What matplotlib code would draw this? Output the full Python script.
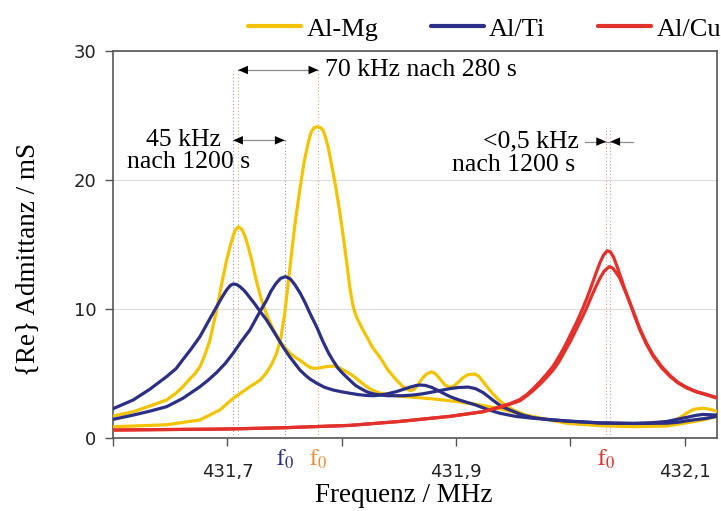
import matplotlib
matplotlib.use("Agg")
import matplotlib.pyplot as plt

plt.rcParams['mathtext.fontset'] = 'stix'

SERIF = ['Liberation Serif', 'DejaVu Serif']
SANS = ['DejaVu Sans']

# Al-Mg resonator, original peak (MHz, mS)
mg0_f = [431.600, 431.6175, 431.6467, 431.6759, 431.6934, 431.705, 431.7196, 431.7284,
         431.7342, 431.739, 431.743, 431.7465, 431.750, 431.7546, 431.759, 431.7633,
         431.767, 431.7706, 431.773, 431.7755, 431.7782, 431.781, 431.7835, 431.7852,
         431.788, 431.7911, 431.7945, 431.7983, 431.8012, 431.8042, 431.807, 431.8085,
         431.810, 431.8115, 431.813, 431.8167, 431.8217, 431.8272, 431.8333, 431.8403,
         431.8479, 431.8535, 431.8596, 431.8625, 431.865, 431.868, 431.871, 431.8745,
         431.8786, 431.882, 431.8859, 431.890, 431.8946, 431.898, 431.902, 431.906,
         431.910, 431.9165, 431.920, 431.9235, 431.928, 431.9322, 431.937, 431.941,
         431.9497, 431.9611, 431.9733, 431.9967, 432.0258, 432.055, 432.0783, 432.0872,
         432.095, 432.1017, 432.108, 432.116, 432.122, 432.128]
mg0_v = [0.90, 0.95, 1.05, 1.42, 2.2, 3.1, 4.0, 4.5,
         5.1, 5.8, 6.6, 7.7, 9.6, 13.2, 16.6, 19.3,
         21.4, 22.9, 23.7, 24.05, 24.15, 24.1, 23.9, 23.5,
         22.6, 21.2, 19.6, 17.5, 15.7, 13.7, 11.7, 10.9,
         10.2, 9.75, 9.4, 8.7, 7.9, 7.0, 6.3, 5.3,
         4.5, 4.0, 3.7, 3.75, 3.95, 4.35, 4.7, 5.0,
         5.15, 5.0, 4.6, 4.15, 3.95, 4.05, 4.35, 4.7,
         4.92, 4.98, 4.8, 4.4, 3.9, 3.45, 3.0, 2.7,
         2.2, 1.8, 1.55, 1.29, 1.03, 0.95, 1.0, 1.15,
         1.55, 1.95, 2.25, 2.33, 2.25, 2.1]

# Al-Mg after 280 s
mg1_f = [431.600, 431.6175, 431.632, 431.6467, 431.655, 431.661, 431.667, 431.6715,
         431.6759, 431.680, 431.6846, 431.6905, 431.695, 431.6992, 431.703, 431.7065,
         431.7094, 431.7125, 431.7152, 431.718, 431.7215, 431.725, 431.7295, 431.7342,
         431.7397, 431.7459, 431.7505, 431.7546, 431.759, 431.7633, 431.768, 431.7721,
         431.776, 431.780, 431.7861, 431.7925, 431.797, 431.8012, 431.8071, 431.812,
         431.8167, 431.8217, 431.8275, 431.8333, 431.8403, 431.850, 431.8596, 431.880,
         431.900, 431.920, 431.9383, 431.960, 431.9967, 432.0258, 432.055, 432.0842,
         432.1017, 432.116, 432.128]
mg1_v = [1.73, 2.06, 2.5, 2.97, 3.5, 4.0, 4.6, 5.0,
         5.55, 6.4, 7.6, 9.95, 12.0, 13.8, 15.1, 16.1,
         16.4, 16.2, 15.7, 14.9, 13.7, 12.3, 10.8, 9.6,
         8.5, 7.5, 7.0, 6.6, 6.3, 6.05, 5.75, 5.5,
         5.42, 5.45, 5.55, 5.6, 5.5, 5.3, 5.0, 4.7,
         4.35, 4.0, 3.7, 3.5, 3.36, 3.27, 3.2, 3.05,
         2.85, 2.6, 2.3, 1.8, 1.16, 0.98, 0.9, 0.95,
         1.2, 1.42, 1.7]

# Al/Ti resonator, original peak
ti0_f = [431.600, 431.6175, 431.632, 431.6467, 431.661, 431.6759, 431.683, 431.6905,
         431.698, 431.705, 431.712, 431.7196, 431.727, 431.7342, 431.738, 431.7424,
         431.7465, 431.7508, 431.755, 431.759, 431.7633, 431.768, 431.7721, 431.7782,
         431.7835, 431.7885, 431.7925, 431.797, 431.8012, 431.8071, 431.812, 431.8167,
         431.822, 431.8272, 431.834, 431.8403, 431.8535, 431.862, 431.871, 431.880,
         431.8859, 431.8946, 431.9016, 431.9106, 431.917, 431.9235, 431.928, 431.9322,
         431.940, 431.9497, 431.958, 431.9675, 431.980, 431.9967, 432.0258, 432.055,
         432.070, 432.0842, 432.095, 432.1017, 432.110, 432.116, 432.128]
ti0_v = [1.47, 1.8, 2.1, 2.45, 3.1, 4.0, 4.5, 5.1,
         5.8, 6.6, 7.5, 8.4, 9.6, 10.7, 11.4, 12.0,
         12.4, 12.53, 12.35, 11.9, 11.3, 10.5, 9.7, 8.6,
         7.5, 6.6, 6.0, 5.4, 5.0, 4.5, 4.1, 3.85,
         3.6, 3.45, 3.35, 3.3, 3.3, 3.35, 3.45, 3.6,
         3.7, 3.85, 3.93, 3.97, 3.85, 3.55, 3.25, 2.95,
         2.45, 2.1, 1.8, 1.6, 1.45, 1.33, 1.2, 1.15,
         1.2, 1.3, 1.5, 1.62, 1.78, 1.85, 1.8]

# Al/Ti after 1200 s
ti1_f = [431.600, 431.6175, 431.632, 431.6467, 431.655, 431.661, 431.668, 431.6759,
         431.6835, 431.6905, 431.695, 431.6992, 431.7025, 431.705, 431.708, 431.711,
         431.7152, 431.7196, 431.724, 431.7284, 431.7342, 431.7424, 431.7485, 431.7546,
         431.759, 431.7633, 431.768, 431.7721, 431.7782, 431.785, 431.7925, 431.800,
         431.8071, 431.815, 431.8217, 431.828, 431.8333, 431.840, 431.8479, 431.854,
         431.8596, 431.8645, 431.8683, 431.873, 431.8786, 431.884, 431.8888, 431.895,
         431.9016, 431.909, 431.9165, 431.927, 431.9383, 431.952, 431.9675, 431.9967,
         432.0258, 432.055, 432.0842, 432.095, 432.1017, 432.110, 432.1192, 432.128]
ti1_v = [2.3, 2.97, 3.8, 4.78, 5.4, 6.1, 6.9, 7.88,
         9.1, 10.2, 10.9, 11.5, 11.85, 11.96, 11.92, 11.75,
         11.4, 10.9, 10.4, 9.85, 9.17, 8.0, 7.1, 6.3,
         5.8, 5.3, 4.9, 4.6, 4.26, 3.95, 3.74, 3.6,
         3.49, 3.38, 3.32, 3.3, 3.35, 3.45, 3.62, 3.8,
         3.96, 4.08, 4.13, 4.1, 3.95, 3.72, 3.49, 3.22,
         3.0, 2.8, 2.6, 2.25, 1.94, 1.7, 1.55, 1.35,
         1.18, 1.15, 1.17, 1.25, 1.35, 1.45, 1.55, 1.7]

# Al/Cu resonator, before and after 1200 s
cu0_f = [431.600, 431.650, 431.700, 431.750, 431.8071, 431.850, 431.8946, 431.9235,
         431.9383, 431.9475, 431.9557, 431.962, 431.9675, 431.9735, 431.979, 431.985,
         431.9905, 431.9955, 432.0005, 432.0055, 432.0105, 432.0142, 432.018, 432.022,
         432.0258, 432.029, 432.0322, 432.035, 432.038, 432.0405, 432.0433, 432.0475,
         432.0521, 432.0565, 432.0608, 432.0665, 432.0725, 432.0795, 432.0871, 432.094,
         432.1017, 432.110, 432.1192, 432.128]
cu0_v = [0.64, 0.68, 0.72, 0.82, 1.0, 1.3, 1.7, 2.06,
         2.45, 2.7, 3.0, 3.4, 3.85, 4.4, 4.95, 5.6,
         6.4, 7.2, 8.1, 9.0, 10.0, 10.8, 11.7, 12.7,
         13.6, 14.2, 14.54, 14.45, 14.0, 13.4, 12.7, 11.6,
         10.5, 9.4, 8.4, 7.3, 6.35, 5.5, 4.8, 4.3,
         3.9, 3.6, 3.36, 3.12]
cu1_f = [431.600, 431.650, 431.700, 431.750, 431.8071, 431.850, 431.8946, 431.9235,
         431.9383, 431.9475, 431.9557, 431.962, 431.9675, 431.9735, 431.979, 431.985,
         431.9905, 431.9955, 432.0005, 432.0055, 432.0105, 432.0142, 432.018, 432.022,
         432.0258, 432.0295, 432.0339, 432.037, 432.040, 432.0433, 432.0475, 432.0521,
         432.0565, 432.0608, 432.0665, 432.0725, 432.0795, 432.0871, 432.094, 432.1017,
         432.110, 432.1192, 432.128]
cu1_v = [0.64, 0.68, 0.72, 0.82, 1.0, 1.3, 1.7, 2.06,
         2.4, 2.65, 2.9, 3.3, 3.7, 4.2, 4.7, 5.3,
         6.0, 6.8, 7.6, 8.5, 9.4, 10.1, 10.9, 11.7,
         12.4, 12.95, 13.3, 13.2, 12.85, 12.4, 11.5, 10.5,
         9.5, 8.5, 7.4, 6.45, 5.6, 4.88, 4.35, 3.95,
         3.63, 3.4, 3.16]

# resonance frequencies marked with dotted lines
mg_f0 = [431.7094, 431.7794]
ti_f0 = [431.7050, 431.7500]
cu_f0 = [432.0312, 432.0350]

labels = ['Al-Mg', 'Al/Ti', 'Al/Cu']
c_mg, c_ti, c_cu = '#f4c300', '#2b2f86', '#e2302b'

fig = plt.figure(figsize=(7.21, 5.11), dpi=100)
ax = fig.add_axes([0.157, 0.1423, 0.837, 0.7573])

# dotted f0 markers
dot = (0, (1, 2))
for f in mg_f0:
    ax.plot([f, f], [0, 28.5], ls=dot, lw=0.8, color='#c8b27a', zorder=1)
ax.plot([ti_f0[0]] * 2, [0, 28.5], ls=dot, lw=0.8, color='#8f94cc', zorder=1)
ax.plot([ti_f0[1]] * 2, [0, 23.1], ls=dot, lw=0.8, color='#8f94cc', zorder=1)
for f in cu_f0:
    ax.plot([f, f], [0, 24.0], ls=dot, lw=0.8, color='#d39a9a', zorder=1)

kw = dict(lw=2.3, solid_joinstyle='round', solid_capstyle='round')
l_mg, = ax.plot(mg0_f, mg0_v, color=c_mg, zorder=3, **kw)
ax.plot(mg1_f, mg1_v, color=c_mg, zorder=3, **kw)
l_ti, = ax.plot(ti0_f, ti0_v, color=c_ti, zorder=4, **kw)
ax.plot(ti1_f, ti1_v, color=c_ti, zorder=4, **kw)
l_cu, = ax.plot(cu0_f, cu0_v, color=c_cu, zorder=5, **kw)
ax.plot(cu1_f, cu1_v, color=c_cu, zorder=5, **kw)


def head(x_tip, x_from, y):
    ax.annotate('', xy=(x_tip, y), xytext=(x_from, y),
                arrowprops=dict(arrowstyle='-|>,head_length=0.5,head_width=0.22',
                                color='black', lw=0, shrinkA=0, shrinkB=0,
                                mutation_scale=14), zorder=6)


def shaft(x1, x2, y):
    ax.plot([x1, x2], [y, y], color='#8c8c8c', lw=0.9, zorder=6)


fs = 18.5

# 70 kHz shift of Al-Mg
y70 = 28.55
shaft(mg_f0[0], mg_f0[1], y70)
head(mg_f0[0], mg_f0[0] + 0.01, y70)
head(mg_f0[1], mg_f0[1] - 0.01, y70)
ax.text(431.7855, y70, '70 kHz nach 280 s', family=SERIF, fontsize=fs,
        va='center', ha='left')

# 45 kHz shift of Al/Ti
y45 = 23.1
shaft(ti_f0[0], ti_f0[1], y45)
head(ti_f0[0], ti_f0[0] + 0.01, y45)
head(ti_f0[1], ti_f0[1] - 0.01, y45)
ax.text(431.6290, y45, '45 kHz', family=SERIF, fontsize=fs, va='center', ha='left')
ax.text(431.6125, 21.4, 'nach 1200 s', family=SERIF, fontsize=fs, va='center', ha='left')

# <0.5 kHz for Al/Cu
y05 = 23.0
shaft(432.0127, 432.0547, y05)
head(cu_f0[0], 432.0200, y05)
head(cu_f0[1], 432.0470, y05)
ax.text(432.0070, y05, '<0,5 kHz', family=SERIF, fontsize=fs, va='center', ha='right')
ax.text(432.0045, 21.2, 'nach 1200 s', family=SERIF, fontsize=fs, va='center', ha='right')

# f0 labels under the axis
for f, c in [(ti_f0[1], c_ti), (mg_f0[1], '#e8913a'), (cu_f0[0], c_cu)]:
    ax.text(f, -1.6, r'$\mathrm{f}_0$', color=c, fontsize=17, ha='center', va='center',
            clip_on=False)

ax.set_xlim(431.6, 432.128)
ax.set_ylim(0, 30)
ax.set_xticks([431.7, 431.9, 432.1])
ax.set_xticklabels(['431,7', '431,9', '432,1'])
ax.set_xticks([431.6, 431.8, 432.0], minor=True)
ax.set_yticks([0, 10, 20, 30])
ax.tick_params(axis='x', which='both', direction='out', length=6, width=1,
               color='#555555', pad=12, labelsize=13)
ax.tick_params(axis='y', direction='out', length=6, width=1, color='#555555',
               pad=6, labelsize=13)
for lab in ax.get_xticklabels() + ax.get_yticklabels():
    lab.set_family(SANS)
    lab.set_color('#222222')
ax.yaxis.grid(True, color='#dcdcdc', lw=0.8)
ax.set_axisbelow(True)
for s in ax.spines.values():
    s.set_color('#555555')
    s.set_linewidth(1.2)

fig.text(0.56, 1 - 496 / 511, 'Frequenz / MHz', family=SERIF, fontsize=19.5,
         ha='center', va='center')
fig.text(28 / 721, 1 - 259 / 511, '{Re} Admittanz / mS', family=SERIF, fontsize=19.5,
         ha='center', va='center', rotation=90)

fig.legend([l_mg, l_ti, l_cu], labels, loc='center right',
           bbox_to_anchor=(1.0, 1 - 29 / 511), ncol=3, frameon=False,
           prop={'family': SERIF, 'size': 19}, handlelength=2.0, handletextpad=0.2,
           columnspacing=2.0, borderaxespad=0, borderpad=0)
for h in fig.legends[0].legend_handles:
    h.set_linewidth(3)

fig.savefig('out.png', dpi=100)
